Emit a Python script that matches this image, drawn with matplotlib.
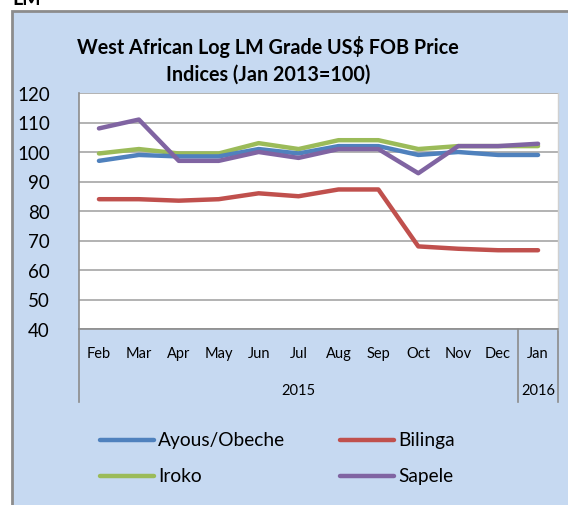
import matplotlib
matplotlib.use("Agg")
import matplotlib.pyplot as plt
from matplotlib.patches import Rectangle
from matplotlib.lines import Line2D
import matplotlib.transforms as mtransforms
import numpy as np

months = ["Feb", "Mar", "Apr", "May", "Jun", "Jul", "Aug", "Sep", "Oct", "Nov", "Dec", "Jan"]
years = ["2015", "2016"]
ayous = [97, 99, 98.5, 98.5, 101, 99.5, 102, 102, 99, 100, 99, 99]
bilinga = [84, 84, 83.5, 84, 86, 85, 87.3, 87.3, 68, 67.2, 66.7, 66.7]
iroko = [99.5, 101, 99.5, 99.5, 103, 101, 104, 104, 101, 102, 102, 102]
sapele = [108, 111, 97, 97, 100, 98, 101, 101, 92.8, 102, 102, 102.8]
yticks = [40, 50, 60, 70, 80, 90, 100, 110, 120]

plt.rcParams['font.family'] = ['Lato', 'DejaVu Sans']

W, H = 568, 506
fig = plt.figure(figsize=(W / 100, H / 100), dpi=100)
fig.patch.set_facecolor('white')

def fx(px):
    return px / W

def fy(py):
    return 1 - py / H

bg = '#C6D9F1'
fig.patches.append(Rectangle((fx(12), -0.1), 1.2, fy(12) + 0.1, transform=fig.transFigure,
                             facecolor=bg, edgecolor='#8C8C8C', linewidth=2, zorder=-5))
fig.text(fx(12), fy(5), "LM", fontsize=14, fontweight='bold', ha='left', va='baseline')

ax = fig.add_axes([fx(79), fy(330), fx(558) - fx(79), fy(94) - fy(330)])
ax.set_facecolor('white')
x = np.arange(len(months))
names = ['Ayous/Obeche', 'Bilinga', 'Iroko', 'Sapele']
colors = {'Ayous/Obeche': '#4F81BD', 'Bilinga': '#C0504D', 'Iroko': '#9BBB59', 'Sapele': '#8064A2'}
series = {'Ayous/Obeche': ayous, 'Bilinga': bilinga, 'Iroko': iroko, 'Sapele': sapele}
zord = {'Ayous/Obeche': 3, 'Bilinga': 3, 'Iroko': 2, 'Sapele': 4}
for n in names:
    ax.plot(x, series[n], color=colors[n], lw=3.2, label=n, zorder=zord[n],
            solid_capstyle='round')
ax.set_xlim(-0.5, len(months) - 0.5)
ax.set_ylim(40, 120)
ax.set_yticks(yticks)
ax.set_yticklabels([str(t) for t in yticks], fontsize=13.5)
ax.tick_params(axis='y', length=0, pad=21)
ax.set_xticks([])
ax.grid(axis='y', color='#A6A6A6', lw=1.2)
ax.set_axisbelow(True)
for s in ['left', 'bottom']:
    ax.spines[s].set_color('#8C8C8C')
    ax.spines[s].set_linewidth(1.2)
ax.spines['top'].set_visible(False)
ax.spines['right'].set_color('#D0D0D0')
ax.spines['right'].set_linewidth(1.0)

trans = mtransforms.blended_transform_factory(ax.transData, ax.transAxes)
for i, m in enumerate(months):
    ax.text(i, -0.1, m, transform=trans, ha='center', va='center', fontsize=10.5)
ax.text(5, -0.26, years[0], transform=trans, ha='center', va='center', fontsize=10.5)
ax.text(11, -0.26, years[1], transform=trans, ha='center', va='center', fontsize=10.5)
for xb in [-0.5, 10.5, 11.5]:
    ax.add_line(Line2D([xb, xb], [0, -0.31], transform=trans, color='#8C8C8C', lw=1.2, clip_on=False))

fig.text(fx(268), fy(47), "West African Log LM Grade US$ FOB Price", ha='center', va='center',
         fontsize=14.2, fontweight='bold')
fig.text(fx(268), fy(75), "Indices (Jan 2013=100)", ha='center', va='center',
         fontsize=14.2, fontweight='bold')

# legend (two rows, two columns)
leg_pos = {'Ayous/Obeche': (100, 441), 'Bilinga': (340, 441), 'Iroko': (100, 477), 'Sapele': (340, 477)}
for n in names:
    px, py = leg_pos[n]
    fig.add_artist(Line2D([fx(px), fx(px + 54)], [fy(py), fy(py)], transform=fig.transFigure,
                          color=colors[n], lw=3.2, solid_capstyle='round'))
    fig.text(fx(px + 58), fy(py), n, ha='left', va='center', fontsize=13.8)

fig.savefig('out.png', dpi=100, facecolor=fig.get_facecolor())
